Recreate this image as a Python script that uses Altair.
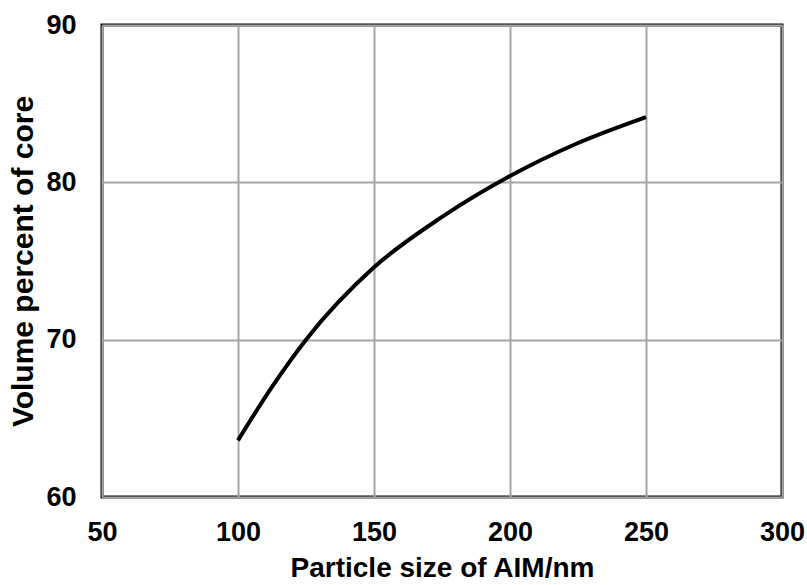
import altair as alt
import pandas as pd

size_nm = [100, 112.5, 125, 150, 175, 200, 225, 250]
core_pct = [63.6, 67.0, 70.0, 74.6, 77.8, 80.4, 82.5, 84.15]

df = pd.DataFrame({"size": size_nm, "core": core_pct})

FONT = "Liberation Sans"

chart = (
    alt.Chart(df)
    .mark_line(color="black", strokeWidth=4, interpolate="monotone")
    .encode(
        x=alt.X(
            "size:Q",
            scale=alt.Scale(domain=[50, 300], nice=False),
            axis=alt.Axis(
                title="Particle size of AIM/nm",
                values=[50, 100, 150, 200, 250, 300],
                ticks=False,
                domain=False,
                labelFlush=False,
                labelPadding=22,
                titlePadding=9,
                titleFontSize=28,
            ),
        ),
        y=alt.Y(
            "core:Q",
            scale=alt.Scale(domain=[60, 90], nice=False, zero=False),
            axis=alt.Axis(
                title="Volume percent of core",
                values=[60, 70, 80, 90],
                ticks=False,
                domain=False,
                labelFlush=False,
                labelPadding=26,
                titlePadding=7,
                titleFontSize=30,
            ),
        ),
    )
    .properties(
        width=680,
        height=472,
        autosize=alt.AutoSizeParams(type="none"),
        padding={"left": 102, "top": 25, "right": 25, "bottom": 88},
    )
    .configure_view(stroke="black", strokeWidth=3)
    .configure_axis(
        labelFont=FONT,
        labelFontSize=27,
        labelFontWeight="bold",
        labelColor="black",
        titleFont=FONT,
        titleFontWeight="bold",
        titleColor="black",
        grid=True,
        gridColor="#a6a6a6",
        gridWidth=2,
        gridOpacity=1,
    )
)

chart.save("out.html", embed_options={"renderer": "svg", "actions": False})
